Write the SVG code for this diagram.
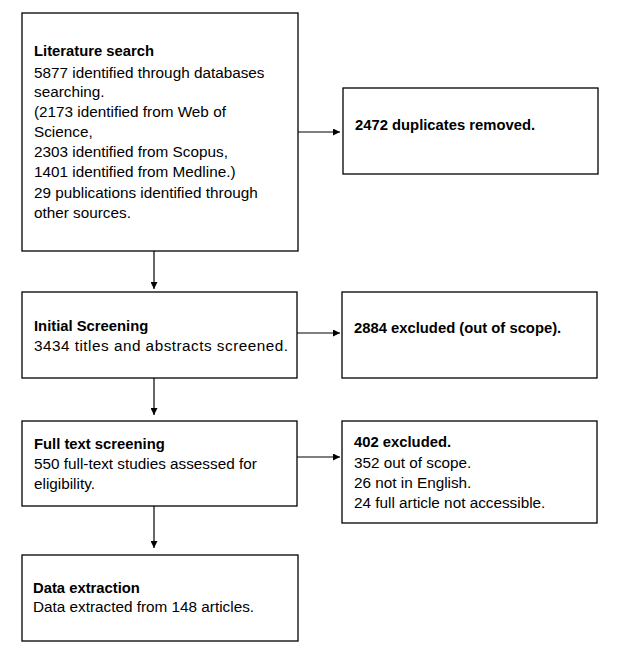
<svg xmlns="http://www.w3.org/2000/svg" width="635" height="650" viewBox="0 0 635 650">
<style>
.box{fill:#fff;stroke:#000;stroke-width:1.3}
.t{font-family:"Liberation Sans",Arial,sans-serif;font-size:15.3px;fill:#000}
.b{font-weight:bold;font-size:14.8px}
.c{stroke:#000;stroke-width:1.2;fill:none;marker-end:url(#ah)}
</style>
<defs>
<marker id="ah" viewBox="0 0 10 10" refX="10" refY="5" markerWidth="7" markerHeight="7" markerUnits="userSpaceOnUse" orient="auto">
<path d="M0,0 L10,5 L0,10 z" fill="#000"/>
</marker>
</defs>
<rect width="635" height="650" fill="#fff"/>
<g id="connectors">
<line class="c" x1="154" y1="251" x2="154" y2="289"/>
<line class="c" x1="154" y1="378" x2="154" y2="415"/>
<line class="c" x1="154" y1="506" x2="154" y2="548"/>
<line class="c" x1="298" y1="132" x2="340" y2="132"/>
<line class="c" x1="297" y1="333" x2="340" y2="333"/>
<line class="c" x1="297" y1="457" x2="340" y2="457"/>
</g>
<g id="literature-search">
<rect class="box" x="22" y="13" width="276" height="238"/>
<text class="t b" x="34" y="56">Literature search</text>
<text class="t" x="34" y="77.5">5877 identified through databases</text>
<text class="t" x="34" y="97">searching.</text>
<text class="t" x="34" y="117">(2173 identified from Web of</text>
<text class="t" x="34" y="137">Science,</text>
<text class="t" x="34" y="157">2303 identified from Scopus,</text>
<text class="t" x="34" y="177">1401 identified from Medline.)</text>
<text class="t" x="34" y="197.5">29 publications identified through</text>
<text class="t" x="34" y="217.5">other sources.</text>
</g>
<g id="duplicates">
<rect class="box" x="343" y="88" width="255" height="86"/>
<text class="t b" x="355" y="130">2472 duplicates removed.</text>
</g>
<g id="initial-screening">
<rect class="box" x="22" y="292" width="275" height="86"/>
<text class="t b" x="34" y="331">Initial Screening</text>
<text class="t" x="34" y="351" textLength="254" lengthAdjust="spacing">3434 titles and abstracts screened.</text>
</g>
<g id="excluded-scope">
<rect class="box" x="342" y="292" width="255" height="86"/>
<text class="t b" x="354" y="333">2884 excluded (out of scope).</text>
</g>
<g id="full-text-screening">
<rect class="box" x="22" y="421" width="275" height="85"/>
<text class="t b" x="34" y="449">Full text screening</text>
<text class="t" x="34" y="469">550 full-text studies assessed for</text>
<text class="t" x="34" y="489">eligibility.</text>
</g>
<g id="excluded-402">
<rect class="box" x="342" y="421" width="255" height="102"/>
<text class="t b" x="354" y="447">402 excluded.</text>
<text class="t" x="354" y="468">352 out of scope.</text>
<text class="t" x="354" y="488">26 not in English.</text>
<text class="t" x="354" y="508">24 full article not accessible.</text>
</g>
<g id="data-extraction">
<rect class="box" x="22" y="555" width="276" height="86"/>
<text class="t b" x="33" y="593">Data extraction</text>
<text class="t" x="33" y="612">Data extracted from 148 articles.</text>
</g>
</svg>
